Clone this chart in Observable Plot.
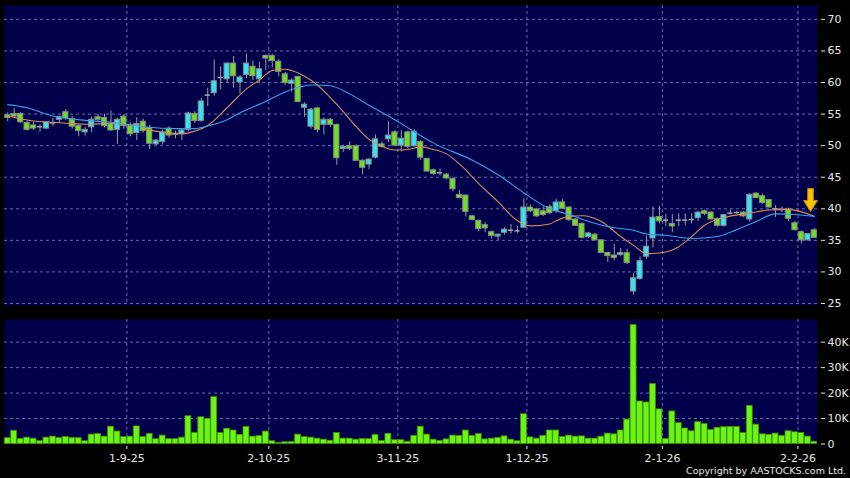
<!DOCTYPE html>
<html>
<head>
<meta charset="utf-8">
<script src="https://cdn.jsdelivr.net/npm/d3@7"></script>
<script src="https://cdn.jsdelivr.net/npm/@observablehq/plot@0.6"></script>
<style>
  html, body { margin: 0; padding: 0; background: #000; }
  #chart { position: relative; width: 850px; height: 478px; background: #000; overflow: hidden; font-family: "DejaVu Sans", sans-serif; }
  #price { position: absolute; left: 0; top: 0; }
  #volume { position: absolute; left: 0; top: 310px; }
  #copy { position: absolute; right: 4px; top: 465px; font-size: 9.5px; line-height: 12px; color: #e8e8e8; white-space: nowrap; }
</style>
</head>
<body>
<div id="chart">
  <div id="price"></div>
  <div id="volume"></div>
  <div id="copy">Copyright by AASTOCKS.com Ltd.</div>
</div>
<script>
// ---- data, one entry per trading day ----
const opens  = [54.8,55.0,55.0,53.6,53.2,53.0,52.7,53.6,54.1,55.3,54.2,53.1,52.1,52.9,54.5,54.4,53.4,52.5,54.6,53.1,
                52.0,53.8,52.8,50.2,50.6,52.7,51.7,51.8,52.5,55.0,53.9,58.0,58.3,60.8,60.5,63.0,60.0,61.2,62.5,60.5,
                64.2,64.2,63.3,61.3,59.8,60.9,56.0,53.0,55.9,53.3,54.1,53.3,49.5,49.9,49.9,47.6,47.0,48.1,50.2,51.0,
                52.1,50.0,52.1,49.9,50.6,47.9,46.1,45.7,45.4,44.7,42.2,42.1,38.8,38.1,37.4,36.3,35.6,36.2,36.6,36.5,
                37.0,40.2,39.9,39.6,40.3,39.6,41.0,40.2,38.3,37.6,35.5,35.9,35.0,33.0,32.6,32.7,33.0,26.9,28.9,32.4,
                35.3,38.7,38.2,37.6,38.2,38.2,38.3,38.5,39.6,39.4,38.4,37.3,39.3,39.4,39.4,38.3,42.4,42.0,41.4,40.0,
                39.9,39.9,37.7,36.3,35.0,36.6];
const highs  = [55.2,55.9,55.2,53.9,53.7,53.3,53.8,54.3,54.7,55.7,54.6,53.3,52.9,54.5,55.0,55.0,55.5,54.3,54.9,53.6,
                54.4,54.2,53.2,51.0,52.5,53.0,52.3,52.6,55.3,55.4,57.5,59.1,63.6,62.5,63.2,64.1,61.1,64.5,63.4,63.2,
                64.4,64.5,63.6,61.6,60.6,61.0,56.8,55.9,56.1,54.4,54.3,53.4,50.1,50.6,50.1,47.8,47.9,51.7,50.6,53.8,
                52.4,52.4,52.3,52.5,50.8,48.0,46.3,46.3,45.6,45.0,42.9,42.1,39.0,38.2,37.8,36.5,36.0,37.0,37.5,37.2,
                41.6,40.6,40.1,40.3,40.6,41.5,41.5,40.3,38.4,37.8,36.3,36.1,35.1,33.1,34.4,33.7,33.6,29.7,32.4,35.7,
                40.3,40.4,39.1,39.1,39.2,39.2,39.2,39.6,39.8,39.6,38.5,39.1,39.8,39.6,39.6,42.4,42.6,42.3,41.5,40.5,
                40.3,40.1,38.0,36.5,36.1,36.9];
const lows   = [53.8,54.3,53.5,52.3,52.4,52.1,52.5,53.0,53.5,54.0,52.6,51.4,51.5,52.0,53.6,52.8,52.3,50.2,52.6,51.4,
                50.8,52.0,49.4,50.0,50.1,51.2,51.1,50.8,52.2,53.5,53.7,56.2,57.8,58.8,59.9,59.1,58.2,60.6,60.3,59.8,
                61.9,62.3,60.9,59.6,58.5,56.8,54.5,52.6,52.0,51.7,52.9,46.9,48.9,49.2,47.5,45.4,46.2,47.9,49.6,50.5,
                49.9,49.0,49.5,49.8,47.7,45.8,45.3,45.2,44.6,42.7,41.6,38.7,38.1,36.4,36.2,35.2,35.0,35.8,36.0,36.1,
                36.9,39.4,38.6,38.8,39.1,39.3,39.9,38.0,37.2,35.2,35.3,34.9,32.9,31.5,31.8,32.4,31.2,26.3,28.7,32.0,
                33.8,37.6,37.2,36.2,37.2,37.3,37.6,38.0,38.9,38.2,37.1,37.1,39.0,39.1,38.6,37.9,41.6,40.7,40.1,38.6,
                39.4,38.0,36.5,34.4,34.9,35.3];
const closes = [54.4,54.6,53.7,52.5,52.7,53.0,53.7,53.6,54.5,54.3,53.0,52.3,52.5,54.1,54.1,53.1,52.4,54.1,53.1,51.8,
                53.4,52.3,50.3,50.8,52.1,51.6,51.9,52.4,55.1,53.9,57.0,58.0,60.2,60.8,63.0,61.0,60.8,63.0,61.0,62.1,
                63.8,63.4,61.7,59.9,60.3,56.9,56.5,55.7,52.5,54.1,53.3,48.0,49.8,49.5,47.6,46.5,47.8,51.0,49.8,51.6,
                50.0,51.1,49.8,52.2,48.1,45.9,45.5,45.7,44.8,43.1,41.7,39.5,38.2,36.8,36.9,35.7,35.9,36.7,36.6,36.5,
                40.2,39.6,38.8,39.0,39.3,41.0,40.0,38.2,37.3,35.4,36.1,35.0,33.0,32.5,32.2,33.0,31.4,29.0,31.7,34.0,
                38.6,38.0,38.2,37.2,38.2,38.2,38.3,39.4,39.2,38.3,37.3,39.0,39.3,39.4,38.8,42.2,41.7,40.9,40.2,40.0,
                39.9,38.4,36.6,35.0,36.0,35.4];
const volumes = [2.3,5.2,2.0,2.5,2.1,1.1,2.5,2.9,2.3,2.8,2.4,2.3,1.1,3.7,3.9,2.9,6.8,4.9,2.7,2.9,
                 6.9,2.7,4.0,1.9,3.3,1.9,1.9,2.5,10.9,4.4,10.5,9.9,18.4,4.3,6.0,5.3,3.6,6.7,2.9,3.1,
                 4.9,1.1,0.4,0.7,0.8,3.7,2.7,2.5,2.1,1.7,1.3,4.3,2.1,2.1,1.7,1.9,1.9,3.6,1.2,4.0,
                 1.5,1.5,0.9,3.2,6.8,3.7,1.7,1.2,1.8,3.3,3.2,5.3,3.2,3.9,1.8,2.1,2.4,3.0,1.7,1.1,
                 11.7,2.6,2.1,3.2,5.3,5.3,2.8,3.3,2.9,3.0,2.1,2.1,2.9,4.1,3.8,5.3,9.6,46.7,16.7,16.3,
                 23.6,13.6,2.0,12.8,8.2,6.1,5.0,8.6,7.8,5.5,6.4,6.6,6.7,6.7,4.3,15.0,7.6,3.8,3.6,4.1,
                 3.2,5.0,4.6,4.3,2.9,0.9].map(k => k * 1000);

// moving averages: [day index, value]
const ma10Idx = [0,4,7,12,16,20,22,25,27,29,31,34,37,39,41,43,44,46,48,50,52,54,56,58,60,62,64,66,68,70,73,76,79,81,84,85,87,89,92,95,97,99,101,104,106,108,111,115,118,121,125];
const ma10Val = [54.7,53.9,53.7,53.4,53.5,53.2,52.5,52.0,51.9,52.3,53.2,56.0,59.0,60.4,61.9,62.1,61.9,61.0,59.6,57.6,55.4,53.0,51.0,49.9,49.3,49.4,49.8,49.4,48.7,47.1,44.0,41.1,38.1,37.3,37.6,38.1,38.8,38.9,38.0,35.6,34.2,32.9,33.0,34.0,35.6,37.4,38.6,39.3,39.8,39.9,38.8];
const ma20Idx = [0,3,7,12,16,21,26,29,31,34,36,40,43,45,47,50,53,56,60,63,66,72,76,80,84,87,90,94,97,99,102,106,110,113,116,119,122,125];
const ma20Val = [56.5,56.0,54.7,54.0,53.7,53.0,52.7,52.7,53.1,54.1,55.2,57.0,58.5,59.2,59.6,59.5,58.2,56.4,54.1,52.2,50.4,47.7,45.4,42.5,40.0,39.1,38.0,37.0,36.6,36.0,35.8,35.3,35.6,36.7,38.0,39.2,39.1,38.8];

const xLabels   = ["1-9-25","2-10-25","3-11-25","1-12-25","2-1-26","2-2-26"];
const xLabelIdx = [18, 40, 60, 80, 101, 122];
const priceTicks = [25, 30, 35, 40, 45, 50, 55, 60, 65, 70];
const volTicks = [0, 10000, 20000, 30000, 40000];
const volTickLabels = ["0", "10K", "20K", "30K", "40K"];
const marker = [{i: 124, price: 41.4}];

// ---- derived tables ----
const N = closes.length;
const idx = d3.range(N);
const candles = idx.map(i => ({i, open: opens[i], high: highs[i], low: lows[i], close: closes[i]}));
const bodies = candles.filter(d => d.open !== d.close);
const dojis = candles.filter(d => d.open === d.close);
const vols = idx.map(i => ({i, v: volumes[i]}));
const ma10 = ma10Idx.map((i, k) => ({i, v: ma10Val[k]}));
const ma20 = ma20Idx.map((i, k) => ({i, v: ma20Val[k]}));

const NAVY = "#00004b";
const GRID = "#6a6aa6";
const UP = "#35e4f0";
const DOWN = "#6ee020";
const TXT = "#e6e6e6";
const font = "DejaVu Sans";

const downArrow = {
  draw(ctx, size) {
    const r = Math.sqrt(size / Math.PI);
    const s = r / 12;
    ctx.moveTo(-2.8 * s, -11.5 * s);
    ctx.lineTo(2.8 * s, -11.5 * s);
    ctx.lineTo(2.8 * s, 0.5 * s);
    ctx.lineTo(7 * s, 0.5 * s);
    ctx.lineTo(0, 11.5 * s);
    ctx.lineTo(-7 * s, 0.5 * s);
    ctx.lineTo(-2.8 * s, 0.5 * s);
    ctx.closePath();
  }
};

const xBand = {type: "band", domain: idx, range: [4, 817], paddingInner: 0.2, paddingOuter: 0.1, axis: null, label: null};

const price = Plot.plot({
  width: 850, height: 310,
  marginLeft: 4, marginRight: 33, marginTop: 5, marginBottom: 5,
  style: {background: "#000", fontFamily: font, fontSize: "11px", overflow: "visible"},
  x: xBand,
  y: {domain: [24.68, 72.2], axis: null, label: null},
  marks: [
    Plot.frame({fill: NAVY}),
    Plot.gridY(priceTicks, {stroke: GRID, strokeOpacity: 1, strokeDasharray: "3,3"}),
    Plot.gridX(xLabelIdx, {stroke: GRID, strokeOpacity: 1, strokeDasharray: "3,3", dx: 3}),
    Plot.axisY(priceTicks, {anchor: "right", label: null, tickSize: 4, tickPadding: 3, dx: 3, color: TXT, fontSize: 11}),
    Plot.ruleX(candles, {x: "i", y1: "low", y2: "high", stroke: "#9a9a9a", strokeWidth: 1}),
    Plot.barY(bodies, {x: "i", y1: "open", y2: "close", fill: d => d.close > d.open ? UP : DOWN, stroke: "#8a8a8a", strokeWidth: 1}),
    Plot.tickY(dojis, {x: "i", y: "close", stroke: "#a8a8a8", strokeWidth: 1.5}),
    Plot.line(ma10, {x: "i", y: "v", stroke: "#d88a5a", strokeWidth: 1.1, curve: "monotone-x"}),
    Plot.line(ma20, {x: "i", y: "v", stroke: "#3aa0e6", strokeWidth: 1.1, curve: "monotone-x"}),
    Plot.dot(marker, {x: "i", y: "price", symbol: downArrow, r: 12, fill: "#f6c400", stroke: "#c88a00", strokeWidth: 1, dx: 2.7})
  ]
});
document.getElementById("price").append(price);

const volume = Plot.plot({
  width: 850, height: 168,
  marginLeft: 4, marginRight: 33, marginTop: 9, marginBottom: 34.5,
  style: {background: "#000", fontFamily: font, fontSize: "11px", overflow: "visible"},
  x: {...xBand, paddingInner: 0.08, paddingOuter: 0.04},
  y: {domain: [0, 48900], axis: null, label: null},
  marks: [
    Plot.frame({fill: NAVY}),
    Plot.gridY(volTicks.slice(1), {stroke: GRID, strokeOpacity: 1, strokeDasharray: "3,3"}),
    Plot.gridX(xLabelIdx, {stroke: GRID, strokeOpacity: 1, strokeDasharray: "3,3", dx: 3}),
    Plot.axisY(volTicks, {anchor: "right", label: null, tickSize: 4, tickPadding: 3, dx: 3, color: TXT, fontSize: 11,
      tickFormat: d => volTickLabels[volTicks.indexOf(d)]}),
    Plot.axisX(xLabelIdx, {anchor: "bottom", label: null, tickSize: 3, tickPadding: 5, dy: 2.5, dx: 3, color: TXT, fontSize: 11,
      tickFormat: d => xLabels[xLabelIdx.indexOf(d)], style: {letterSpacing: "0.5px"}}),
    Plot.barY(vols, {x: "i", y: "v", fill: "#6cf514", stroke: "#3f8f00", strokeWidth: 0.8})
  ]
});
document.getElementById("volume").append(volume);
</script>
</body>
</html>
